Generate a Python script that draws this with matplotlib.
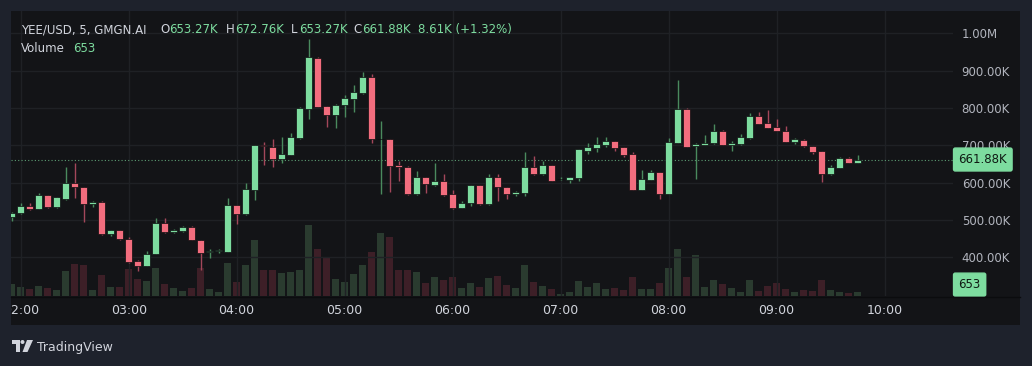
import numpy as np
import pandas as pd
import matplotlib
matplotlib.use('Agg')
import matplotlib.pyplot as plt
import matplotlib.transforms as mtransforms
from matplotlib.patches import Rectangle, Polygon, Ellipse

# YEE/USD 5 minute candles, prices in thousands of USD, first candle at 01:55
start_time = '01:55'
opens = [509, 518, 537, 530, 566, 534, 557, 600, 587, 542,
         549, 462, 473, 450, 391, 377, 409, 491, 467, 471,
         482, 446, 413, 416, 415, 540, 515, 580, 700, 696,
         663, 675, 719, 797, 935, 805, 781, 808, 824, 840,
         884, 716, 717, 647, 643, 569, 614, 594, 604, 569,
         533, 545, 593, 542, 616, 588, 569, 571, 643, 622,
         647, 609, 608, 612, 686, 692, 700, 711, 695, 677,
         580, 608, 628, 570, 707, 798, 698, 701, 705, 739,
         702, 703, 719, 778, 759, 749, 739, 710, 715, 698,
         685, 622, 639, 667, 653.27]
highs = [521, 545, 545, 571, 567, 562, 643, 653, 588, 550,
         550, 474, 474, 454, 392, 418, 504, 504, 476, 484,
         483, 447, 421, 423, 558, 541, 598, 702, 708, 717,
         721, 734, 803, 984, 936, 806, 810, 835, 862, 896,
         891, 765, 718, 658, 645, 632, 615, 652, 622, 580,
         552, 594, 594, 622, 622, 589, 578, 681, 670, 659,
         648, 614, 616, 690, 707, 723, 721, 712, 696, 682,
         634, 634, 629, 719, 875, 800, 705, 728, 757, 740,
         712, 730, 786, 789, 795, 770, 753, 720, 716, 699,
         686, 648, 668, 668, 672.76]
lows = [496, 516, 526, 529, 533, 532, 553, 558, 495, 535,
        461, 458, 446, 386, 364, 376, 408, 466, 464, 469,
        445, 366, 397, 412, 413, 488, 514, 553, 647, 641,
        653, 673, 716, 770, 802, 750, 747, 775, 790, 838,
        707, 570, 576, 605, 568, 567, 571, 591, 564, 528,
        531, 538, 541, 540, 552, 555, 565, 565, 621, 621,
        604, 608, 600, 605, 678, 681, 695, 685, 669, 579,
        579, 607, 556, 569, 706, 695, 610, 700, 704, 700,
        685, 702, 718, 757, 746, 737, 709, 703, 696, 677,
        602, 621, 638, 653, 653.27]
closes = [519, 537, 530, 566, 534, 561, 600, 587, 543, 549,
          462, 473, 448, 388, 377, 409, 491, 467, 473, 482,
          446, 412, 417, 419, 540, 515, 582, 700, 697, 663,
          677, 721, 801, 936, 803, 781, 809, 826, 842, 884,
          716, 717, 645, 642, 569, 616, 596, 604, 566, 531,
          546, 593, 543, 616, 588, 569, 574, 643, 622, 647,
          605, 611, 615, 689, 695, 703, 711, 693, 675, 580,
          610, 628, 570, 709, 798, 696, 703, 707, 739, 701,
          705, 721, 778, 758, 747, 738, 710, 716, 697, 683,
          622, 641, 667, 653, 661.88]
volumes = [1850, 1350, 1000, 1500, 1200, 900, 3700, 4800, 4600, 900,
           3100, 1350, 1400, 4050, 2600, 2250, 4250, 1750, 1200, 750,
           1200, 4200, 1100, 600, 4900, 2100, 4700, 8400, 3900, 3900,
           3450, 3600, 3900, 10650, 7050, 5900, 2550, 2100, 3350, 4600,
           6650, 9450, 8850, 3850, 3850, 3600, 1900, 2900, 2350, 2850,
           1200, 1900, 1400, 2700, 3000, 1650, 1200, 4700, 2100, 1500,
           1100, 300, 600, 2250, 1350, 2000, 1100, 1200, 850, 2850,
           1000, 1100, 2000, 4200, 7050, 2850, 6150, 1350, 2350, 1750,
           1200, 550, 2450, 750, 1500, 1950, 1100, 550, 850, 750,
           2350, 900, 650, 450, 653]

price_ticks = [400, 500, 600, 700, 800, 900, 1000]
price_labels = ['400.00K', '500.00K', '600.00K', '700.00K', '800.00K', '900.00K', '1.00M']
hour_labels = ['02:00', '03:00', '04:00', '05:00', '06:00', '07:00', '08:00', '09:00', '10:00']

W, H = 1032, 366
outer_bg = '#1e222c'
panel_bg = '#131417'
grid_c = '#1f2125'
up_c, down_c = '#7ddc9f', '#f26d7e'
up_wick, down_wick = '#4a8a5e', '#a3475a'
up_vol, down_vol = '#2a3b2f', '#3d1f27'
text_c = '#d1d4dc'


def fx(x):
    return x / W


def fy(y):
    return 1 - y / H


o = np.array(opens)
h = np.array(highs)
l = np.array(lows)
c = np.array(closes)
v = np.array(volumes)
x = np.arange(len(c))
up = c >= o

start_min = pd.Timestamp(start_time).hour * 60 + pd.Timestamp(start_time).minute
hour_pos = [(int(t[:2]) * 60 - start_min) / 5 for t in hour_labels]

fig = plt.figure(figsize=(W / 100, H / 100), dpi=100, facecolor=outer_bg)
fig.patches.append(Rectangle((fx(11), fy(325)), (1020 - 11) / W, (325 - 11) / H,
                             transform=fig.transFigure, facecolor=panel_bg,
                             edgecolor='none', zorder=-5))

rect = [fx(11), fy(296), (953 - 11) / W, (296 - 11) / H]

# volume pane underneath
vax = fig.add_axes(rect)
vax.patch.set_visible(False)
vax.bar(x, v, width=0.8, color=np.where(up, up_vol, down_vol), linewidth=0)
vax.set_ylim(0, 285 * 150)
vax.axis('off')

# price pane on top
ax = fig.add_axes(rect, sharex=vax)
ax.patch.set_visible(False)
for s in ax.spines.values():
    s.set_visible(False)
ax.set_xlim(-0.078, 104.6)
ax.set_ylim(296.3, 1059.7)
ax.set_yticks(price_ticks)
ax.set_yticklabels(price_labels)
ax.yaxis.tick_right()
ax.tick_params(axis='y', length=0, pad=6.3, labelsize=8.5, labelcolor='#b2b5be')
ax.set_xticks(hour_pos)
ax.tick_params(axis='x', length=0, labelbottom=False)
ax.grid(True, color=grid_c, linewidth=1, zorder=0)
ax.set_axisbelow(True)

ax.vlines(x, l, h, colors=np.where(up, up_wick, down_wick), linewidth=1, zorder=2)
ax.bar(x, np.abs(c - o), bottom=np.minimum(o, c), width=0.72,
       color=np.where(up, up_c, down_c), edgecolor='#0c0d0f', linewidth=0.5, zorder=3)

ax.axhline(c[-1], color='#5c9d73', linestyle=(0, (1, 2)), linewidth=0.8, zorder=1)

blend = mtransforms.blended_transform_factory(ax.transAxes, ax.transData)
ax.text(1.0 + 5.5 / 942, c[-1], f'{c[-1]:.2f}K', transform=blend, ha='left', va='center',
        fontsize=8.5, color='#0f1a13', clip_on=False,
        bbox=dict(boxstyle='round,pad=0.42,rounding_size=0.15', fc=up_c, ec=up_c))
ax.text(1.0 + 5.5 / 942, 0.04, f'{volumes[-1]}', transform=ax.transAxes, ha='left', va='center',
        fontsize=8.5, color='#0f1a13', clip_on=False,
        bbox=dict(boxstyle='round,pad=0.42,rounding_size=0.15', fc=up_c, ec=up_c))

# time axis
tax = fig.add_axes([fx(11), fy(325), (953 - 11) / W, (325 - 296) / H], sharex=ax)
tax.axis('off')
tax.set_ylim(0, 1)
for pos, lab in zip(hour_pos, hour_labels):
    tax.text(pos, 0.5, lab, ha='center', va='center', fontsize=9, color=text_c, clip_on=True)
fig.add_artist(plt.Line2D([fx(11), fx(1020)], [fy(296.5), fy(296.5)], transform=fig.transFigure,
                          color='#0b0c0e', linewidth=1))

# legend header
hy = fy(33.3)
fs = 8.5
fig.text(fx(20.7), hy, 'YEE/USD, 5, GMGN.AI', fontsize=fs, color=text_c, va='baseline')
for letter, lx, val, vx in [('O', 160, opens[-1], 169), ('H', 225.7, highs[-1], 234.7),
                            ('L', 290.7, lows[-1], 298.7), ('C', 353.3, closes[-1], 361.7)]:
    fig.text(fx(lx), hy, letter, fontsize=fs, color=text_c, va='baseline')
    fig.text(fx(vx), hy, f'{val:.2f}K', fontsize=fs, color=up_c, va='baseline')
chg = closes[-1] - opens[-1]
fig.text(fx(418.3), hy, f'{chg:.2f}K (+{chg / opens[-1] * 100:.2f}%)', fontsize=fs, color=up_c,
         va='baseline')
fig.text(fx(20.7), fy(52.5), 'Volume', fontsize=fs, color=text_c, va='baseline')
fig.text(fx(72.7), fy(52.5), f'{volumes[-1]}', fontsize=fs, color=up_c, va='baseline')

# TradingView logo
def pts(seq):
    return [(fx(a), fy(b)) for a, b in seq]


fig.patches.append(Polygon(pts([(12, 340), (19.5, 340), (19.5, 352), (16, 352), (16, 344), (12, 344)]),
                           closed=True, transform=fig.transFigure, fc=text_c, ec='none'))
fig.patches.append(Ellipse((fx(22.5), fy(342)), 4 / W, 4 / H, transform=fig.transFigure,
                           fc=text_c, ec='none'))
fig.patches.append(Polygon(pts([(27, 340), (33, 340), (27.5, 352), (22.5, 352)]),
                           closed=True, transform=fig.transFigure, fc=text_c, ec='none'))
fig.text(fx(37), fy(350.5), 'TradingView', fontsize=9, color=text_c, va='baseline')

fig.savefig('out.png', dpi=100, facecolor=outer_bg)
